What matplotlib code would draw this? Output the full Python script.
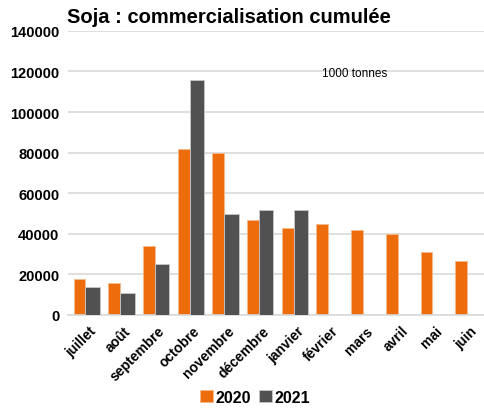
import numpy as np
import matplotlib.pyplot as plt

plt.rcParams['font.family'] = ['Liberation Sans', 'DejaVu Sans']

mois = ['juillet', 'août', 'septembre', 'octobre', 'novembre', 'décembre',
        'janvier', 'février', 'mars', 'avril', 'mai', 'juin']
v2020 = [17800, 15700, 34000, 82000, 80000, 47000, 43000, 44800, 42000, 39700, 31200, 26500]
v2021 = [13500, 10700, 25200, 115800, 49500, 51800, 51700]

fig = plt.figure(figsize=(4.84, 4.14), dpi=100)
ax = fig.add_axes([0.14, 0.237, 0.86, 0.686])

x = np.arange(len(mois))
ax.bar(x - 0.16, v2020, width=0.34, color='#ed6d0d', edgecolor='#f6b98a', linewidth=0.6,
       label='2020', zorder=2)
x2 = np.arange(len(v2021))
ax.bar(x2 + 0.22, v2021, width=0.42, color='#515151', edgecolor='#c8c8c8', linewidth=0.6,
       label='2021', zorder=3)

ax.set_ylim(0, 140000)
ax.set_xlim(-0.5, len(mois) - 0.5)
ax.set_yticks(range(0, 140001, 20000))
ax.yaxis.grid(True, color='#d9d9d9', linewidth=1.2, zorder=0)
ax.set_axisbelow(True)
for s in ['top', 'right', 'left']:
    ax.spines[s].set_visible(False)
ax.spines['bottom'].set_color('#d9d9d9')
ax.spines['bottom'].set_linewidth(1.2)
ax.tick_params(length=0, pad=6)
ax.set_xticks(x + 0.1)
ax.set_xticklabels(mois, rotation=45, ha='right', rotation_mode='anchor',
                   fontsize=10, fontweight='bold')
for lab in ax.get_yticklabels():
    lab.set_fontweight('bold')
    lab.set_fontsize(10.5)

fig.text(0.138, 0.958, 'Soja : commercialisation cumulée', fontsize=14.5,
         fontweight='bold', ha='left', va='center')
ax.text(0.61, 0.85, '1000 tonnes', transform=ax.transAxes, fontsize=8.5, va='center')

ax.legend(loc='upper center', bbox_to_anchor=(0.45, -0.23), ncol=2, frameon=False,
          prop={'weight': 'bold', 'size': 11.5}, handlelength=0.8, handleheight=0.8,
          handletextpad=0.15, columnspacing=0.5, borderaxespad=0.2)

fig.savefig('out.png')
